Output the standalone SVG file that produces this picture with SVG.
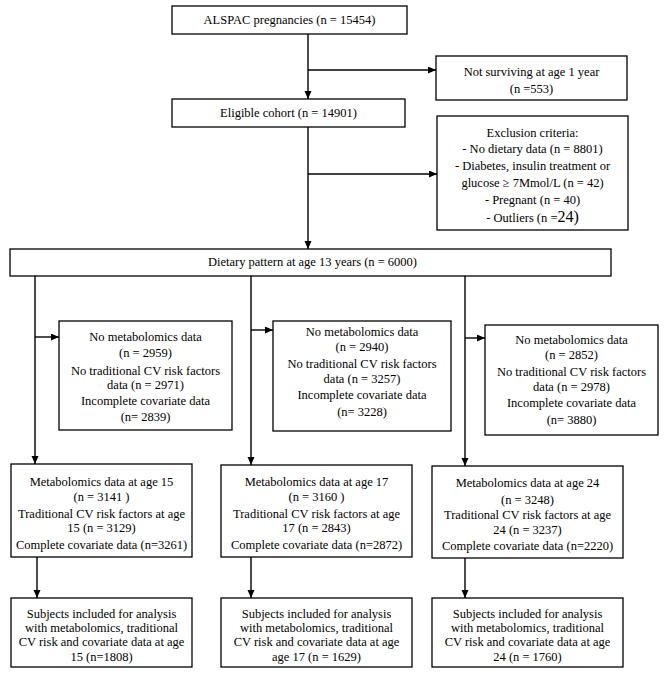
<svg xmlns="http://www.w3.org/2000/svg" width="669" height="675" viewBox="0 0 669 675">
<defs>
<marker id="ah" markerUnits="userSpaceOnUse" markerWidth="9" markerHeight="8" refX="8" refY="3.5" orient="auto">
<path d="M0,0 L8,3.5 L0,7 z" fill="#000"/>
</marker>
<style>
.box{fill:#fff;stroke:#000;stroke-width:1.3}
.t{font-family:"Liberation Serif","Times New Roman",serif;font-size:12.5px;fill:#000;text-anchor:middle}
.c{fill:none;stroke:#000;stroke-width:1.4;marker-end:url(#ah)}
.l{fill:none;stroke:#000;stroke-width:1.4}
</style>
</defs>
<rect width="669" height="675" fill="#fff"/>
<g id="connectors">
<path class="c" d="M308,34 V99"/>
<path class="c" d="M308,70 H436"/>
<path class="c" d="M308,127 V249"/>
<path class="c" d="M308,174 H437"/>
<path class="c" d="M35,276 V464"/>
<path class="c" d="M35,337 H59"/>
<path class="c" d="M251,276 V465"/>
<path class="c" d="M251,330 H273"/>
<path class="c" d="M465,276 V466"/>
<path class="c" d="M465,338 H485"/>
<path class="c" d="M37,557 V598"/>
<path class="c" d="M251,557 V598"/>
<path class="c" d="M465,558 V598"/>
</g>
<g id="alspac">
<rect class="box" x="172" y="6" width="235" height="28"/>
<text class="t" x="289.5" y="24">ALSPAC pregnancies (n = 15454)</text>
</g>
<g id="not-surviving">
<rect class="box" x="436" y="56" width="191" height="44"/>
<text class="t" x="531.5" y="76">Not surviving at age 1 year</text>
<text class="t" x="531.5" y="93">(n =553)</text>
</g>
<g id="eligible">
<rect class="box" x="172" y="99" width="233" height="28"/>
<text class="t" x="288.5" y="117">Eligible cohort (n = 14901)</text>
</g>
<g id="exclusion">
<rect class="box" x="437" y="116" width="191" height="114"/>
<text class="t" x="532.5" y="137">Exclusion criteria:</text>
<text class="t" x="532.5" y="153">- No dietary data (n = 8801)</text>
<text class="t" x="532.5" y="170">- Diabetes, insulin treatment or</text>
<text class="t" x="532.5" y="187">glucose ≥ 7Mmol/L (n = 42)</text>
<text class="t" x="532.5" y="204">- Pregnant (n = 40)</text>
<text class="t" x="532.5" y="222">- Outliers (n =<tspan font-size="16">24)</tspan></text>
</g>
<g id="dietary">
<rect class="box" x="10" y="249" width="601" height="27"/>
<text class="t" x="312.5" y="266">Dietary pattern at age 13 years (n = 6000)</text>
</g>
<g id="excl15">
<rect class="box" x="59" y="321" width="173" height="109"/>
<text class="t" x="145.5" y="341">No metabolomics data</text>
<text class="t" x="145.5" y="357">(n = 2959)</text>
<text class="t" x="145.5" y="375">No traditional CV risk factors</text>
<text class="t" x="145.5" y="389">data (n = 2971)</text>
<text class="t" x="145.5" y="405">Incomplete covariate data</text>
<text class="t" x="145.5" y="421">(n= 2839)</text>
</g>
<g id="excl17">
<rect class="box" x="273" y="321" width="178" height="110"/>
<text class="t" x="362" y="336">No metabolomics data</text>
<text class="t" x="362" y="351">(n = 2940)</text>
<text class="t" x="362" y="368">No traditional CV risk factors</text>
<text class="t" x="362" y="383">data (n = 3257)</text>
<text class="t" x="362" y="399">Incomplete covariate data</text>
<text class="t" x="362" y="416">(n= 3228)</text>
</g>
<g id="excl24">
<rect class="box" x="485" y="325" width="173" height="110"/>
<text class="t" x="571.5" y="344">No metabolomics data</text>
<text class="t" x="571.5" y="359">(n = 2852)</text>
<text class="t" x="571.5" y="376">No traditional CV risk factors</text>
<text class="t" x="571.5" y="391">data (n = 2978)</text>
<text class="t" x="571.5" y="407">Incomplete covariate data</text>
<text class="t" x="571.5" y="424">(n= 3880)</text>
</g>
<g id="metab15">
<rect class="box" x="11" y="464" width="181" height="93"/>
<text class="t" x="101.5" y="486">Metabolomics data at age 15</text>
<text class="t" x="101.5" y="501">(n = 3141 )</text>
<text class="t" x="101.5" y="518">Traditional CV risk factors at age</text>
<text class="t" x="101.5" y="532">15 (n = 3129)</text>
<text class="t" x="101.5" y="549">Complete covariate data (n=3261)</text>
</g>
<g id="metab17">
<rect class="box" x="221" y="465" width="191" height="92"/>
<text class="t" x="316.5" y="486">Metabolomics data at age 17</text>
<text class="t" x="316.5" y="501">(n = 3160 )</text>
<text class="t" x="316.5" y="518">Traditional CV risk factors at age</text>
<text class="t" x="316.5" y="532">17 (n = 2843)</text>
<text class="t" x="316.5" y="549">Complete covariate data (n=2872)</text>
</g>
<g id="metab24">
<rect class="box" x="432" y="466" width="191" height="92"/>
<text class="t" x="527.5" y="487">Metabolomics data at age 24</text>
<text class="t" x="527.5" y="504">(n = 3248)</text>
<text class="t" x="527.5" y="519">Traditional CV risk factors at age</text>
<text class="t" x="527.5" y="534">24 (n = 3237)</text>
<text class="t" x="527.5" y="550">Complete covariate data (n=2220)</text>
</g>
<g id="subjects15">
<rect class="box" x="11" y="598" width="181" height="69"/>
<text class="t" x="101.5" y="618">Subjects included for analysis</text>
<text class="t" x="101.5" y="632">with metabolomics, traditional</text>
<text class="t" x="101.5" y="646">CV risk and covariate data at age</text>
<text class="t" x="101.5" y="661">15 (n=1808)</text>
</g>
<g id="subjects17">
<rect class="box" x="221" y="598" width="191" height="69"/>
<text class="t" x="316.5" y="618">Subjects included for analysis</text>
<text class="t" x="316.5" y="632">with metabolomics, traditional</text>
<text class="t" x="316.5" y="646">CV risk and covariate data at age</text>
<text class="t" x="316.5" y="661">age 17 (n = 1629)</text>
</g>
<g id="subjects24">
<rect class="box" x="432" y="598" width="191" height="69"/>
<text class="t" x="527.5" y="618">Subjects included for analysis</text>
<text class="t" x="527.5" y="632">with metabolomics, traditional</text>
<text class="t" x="527.5" y="646">CV risk and covariate data at age</text>
<text class="t" x="527.5" y="661">24 (n = 1760)</text>
</g>
</svg>
